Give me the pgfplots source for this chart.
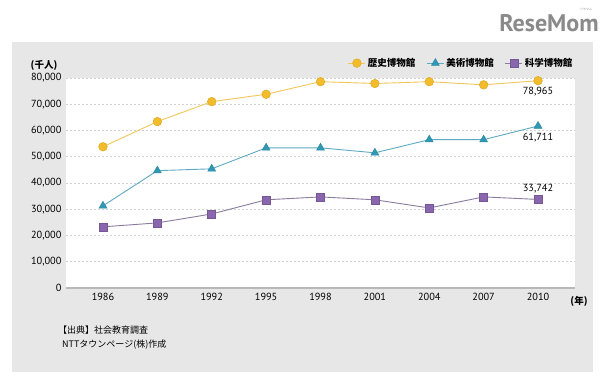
\documentclass[border=0pt]{standalone}
\usepackage{fontspec}
\setmainfont{PT Sans}
\newfontfamily\jp{Noto Sans CJK JP}
\usepackage{pgfplots}
\pgfplotsset{compat=1.18}
\definecolor{panel}{HTML}{E7E7E7}
\definecolor{histM}{HTML}{F3BC2B}
\definecolor{histL}{HTML}{F2C75C}
\definecolor{artM}{HTML}{2E98B5}
\definecolor{artL}{HTML}{5FAAC2}
\definecolor{sciM}{HTML}{8A66AE}
\definecolor{sciL}{HTML}{8A7C9E}
\definecolor{logo}{HTML}{8A8A8A}
\begin{document}
\begin{tikzpicture}[x=1pt,y=1pt]
\fill[white] (0,0) rectangle (608,387);
\fill[panel] (12,15) rectangle (593,345);
\node[font=\fontsize{24}{24}\selectfont\bfseries, text=logo, inner sep=0] at (549,364) {ReseMom};
\node[font=\jp\fontsize{3}{3}\selectfont, text=logo, inner sep=0] at (586,378) {リセマム};
\begin{axis}[
  at={(66pt,99pt)}, anchor=south west,
  scale only axis, width=509pt, height=210pt,
  xmin=1983.96, xmax=2012.04, ymin=0, ymax=80000,
  axis background/.style={fill=white},
  axis x line=bottom, axis y line=left,
  axis line style={-},
  x axis line style={draw=black!28, line width=1.3pt},
  y axis line style={draw=none},
  major tick length=0pt,
  xtick={1986,1989,...,2010},
  ytick={0,10000,...,80000},
  scaled y ticks=false,
  /pgf/number format/assume math mode=true,
  yticklabel style={/pgf/number format/1000 sep={,}, font=\fontsize{10.3}{10}\selectfont, xshift=-1pt},
  xticklabel style={/pgf/number format/1000 sep={}, font=\fontsize{10.3}{10}\selectfont, yshift=-2pt},
  ymajorgrids,
  grid style={black!18, dash pattern=on 2pt off 2pt, line width=0.8pt},
  legend columns=3,
  legend style={draw=none, fill=none, at={(1.005,1.071)}, anchor=east,
    font=\jp\bfseries\fontsize{9.5}{10}\selectfont, /tikz/every even column/.append style={column sep=9pt}},
  legend cell align=left,
  clip=false,
]
\addplot[histL, line width=0.9pt, mark=*, mark size=4.3pt, mark options={fill=histM, draw=histM!90!black, line width=0.5pt}] coordinates {
(1986,53800) (1989,63400) (1992,71000) (1995,73800) (1998,78600) (2001,77900) (2004,78600) (2007,77400) (2010,78965)};
\addlegendentry{歴史博物館}
\addplot[artL, line width=0.9pt, mark=triangle*, mark size=4.5pt, mark options={fill=artM, draw=artM!90!black, line width=0.5pt}] coordinates {
(1986,31300) (1989,44700) (1992,45400) (1995,53400) (1998,53400) (2001,51500) (2004,56500) (2007,56500) (2010,61711)};
\addlegendentry{美術博物館}
\addplot[sciL, line width=0.9pt, mark=square*, mark size=4pt, mark options={fill=sciM, draw=sciM!85!black, line width=0.5pt}] coordinates {
(1986,23300) (1989,24800) (1992,28200) (1995,33600) (1998,34700) (2001,33600) (2004,30500) (2007,34700) (2010,33742)};
\addlegendentry{科学博物館}
\node[font=\fontsize{10.3}{10}\selectfont] at (axis cs:2010,74800) {78,965};
\node[font=\fontsize{10.3}{10}\selectfont] at (axis cs:2010,57250) {61,711};
\node[font=\fontsize{10.3}{10}\selectfont] at (axis cs:2010,37800) {33,742};
\end{axis}
\node[font=\jp\bfseries\fontsize{9.5}{10}\selectfont] at (44,322) {(千人)};
\node[font=\jp\bfseries\fontsize{9.5}{10}\selectfont] at (579,86) {(年)};
\node[font=\jp\fontsize{9}{10}\selectfont, anchor=west, inner sep=0] at (58,57) {【出典】社会教育調査};
\node[font=\jp\fontsize{9}{10}\selectfont, anchor=west, inner sep=0] at (62,42) {NTTタウンページ(株)作成};
\end{tikzpicture}
\end{document}
